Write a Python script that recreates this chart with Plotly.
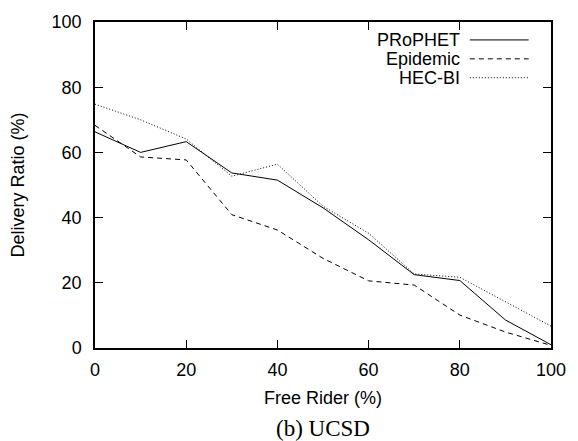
import plotly.graph_objects as go

free_rider = [0, 10, 20, 30, 40, 50, 60, 70, 80, 90, 100]
prophet = [66.3, 60.0, 63.3, 53.7, 51.5, 43.0, 33.2, 22.5, 20.7, 8.6, 1.0]
epidemic = [68.3, 58.6, 57.7, 40.9, 36.2, 27.5, 20.6, 19.3, 10.1, 4.9, 0.8]
hecbi = [74.8, 70.0, 64.1, 52.7, 56.4, 43.5, 35.2, 22.7, 21.7, 14.1, 6.7]

series_names = ["PRoPHET", "Epidemic", "HEC-BI"]
series_vals = [prophet, epidemic, hecbi]
dashes = ["solid", "5px,4px", "1px,2px"]

x_ticks = [0, 20, 40, 60, 80, 100]
y_ticks = [0, 20, 40, 60, 80, 100]

FONT = "Liberation Sans, Arial, sans-serif"
FS = 18

fig = go.Figure()
for name, vals, d in zip(series_names, series_vals, dashes):
    fig.add_trace(go.Scatter(x=free_rider, y=vals, mode="lines", name=name,
                             line=dict(color="black", width=1, dash=d),
                             showlegend=False))

# manual legend: text on the left, sample on the right (gnuplot style)
leg_y = [0.945, 0.887, 0.829]
for name, d, yy in zip(series_names, dashes, leg_y):
    fig.add_annotation(x=0.805, y=yy, xref="paper", yref="paper", text=name,
                       showarrow=False, xanchor="right", yanchor="middle",
                       font=dict(family=FONT, size=FS, color="black"))
    fig.add_shape(type="line", xref="paper", yref="paper",
                  x0=0.822, x1=0.951, y0=yy, y1=yy,
                  line=dict(color="black", width=1, dash=d))

fig.add_annotation(x=0.5, y=-0.246, xref="paper", yref="paper", text="(b) UCSD",
                   showarrow=False, xanchor="center", yanchor="middle",
                   font=dict(family="Liberation Serif, DejaVu Serif, serif", size=23, color="black"))

axis_common = dict(showline=True, linecolor="black", linewidth=1.5, mirror="ticks",
                   ticks="inside", ticklen=8, tickwidth=1, tickcolor="black",
                   showgrid=False, zeroline=False,
                   tickfont=dict(family=FONT, size=FS, color="black"))

fig.update_xaxes(range=[0, 100], tickvals=x_ticks, ticklabelstandoff=5,
                 title=dict(text="Free Rider (%)", font=dict(family=FONT, size=FS, color="black"), standoff=12),
                 **axis_common)
fig.update_yaxes(range=[0, 100], tickvals=y_ticks, ticklabelstandoff=8,
                 title=dict(text="Delivery Ratio (%)", font=dict(family=FONT, size=FS, color="black"), standoff=22),
                 **axis_common)

fig.update_layout(width=578, height=441, margin=dict(l=95, r=21, t=13, b=93),
                  plot_bgcolor="white", paper_bgcolor="white",
                  font=dict(family=FONT, color="black"))

fig.write_html("out.html")
